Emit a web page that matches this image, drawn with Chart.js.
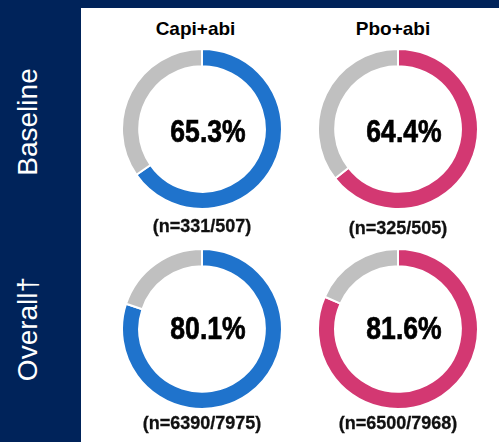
<!DOCTYPE html>
<html>
<head>
<meta charset="utf-8">
<script src="https://cdn.jsdelivr.net/npm/chart.js@4.4.1/dist/chart.umd.min.js"></script>
<style>
  html, body { margin: 0; padding: 0; }
  body { width: 499px; height: 442px; background: #00235a; position: relative; overflow: hidden;
         font-family: "Liberation Sans", Arial, sans-serif; }
  #panel { position: absolute; left: 81px; top: 8px; width: 418px; height: 434px; background: #ffffff; }
  .abs { position: absolute; white-space: nowrap; }
  .title { font-weight: bold; font-size: 19px; line-height: 19px; color: #000; transform: translateX(-50%); }
  .pct { font-weight: bold; font-size: 32px; line-height: 32px; color: #000;
         -webkit-text-stroke: 0.7px #000; transform: translateX(-50%) scaleX(0.83); }
  .nlab { font-weight: bold; font-size: 18px; line-height: 18px; color: #111;
          -webkit-text-stroke: 0.3px #111; transform: translateX(-50%); }
  .row { color: #fff; font-size: 28px; line-height: 28px; transform: translate(-50%, -50%) rotate(-90deg); }
  canvas.donut { position: absolute; }
</style>
</head>
<body>
<div id="panel"></div>
<div id="root"></div>
<script>
// ---- data ----
const groups = ['Capi+abi', 'Pbo+abi'];
const rowLabels = ['Baseline', 'Overall\u2020'];
const baselinePct = [65.3, 64.4];
const overallPct = [80.1, 81.6];
const baselineN = ['(n=331/507)', '(n=325/505)'];
const overallN = ['(n=6390/7975)', '(n=6500/7968)'];
const groupColors = ['#1f73cc', '#d33872'];
const restColor = '#c0c0c0';

// ---- layout ----
const colX = [202, 398];
const rowY = [129, 328.5];
const SIZE = 162;
const root = document.getElementById('root');

function addText(cls, text, cx, cy, size) {
  const d = document.createElement('div');
  d.className = 'abs ' + cls;
  d.textContent = text;
  d.style.left = cx + 'px';
  d.style.top = (cy - size / 2) + 'px';
  root.appendChild(d);
  return d;
}

// row labels (rotated)
const rowCenters = [122, 329];
rowLabels.forEach((t, i) => {
  const d = document.createElement('div');
  d.className = 'abs row';
  d.textContent = t;
  d.style.left = '28px';
  d.style.top = rowCenters[i] + 'px';
  root.appendChild(d);
});

// column titles
const titleX = [195.5, 393];
groups.forEach((g, i) => addText('title', g, titleX[i], 28, 19));

const rows = [
  { pct: baselinePct, n: baselineN, nY: [226, 228], pY: 131 },
  { pct: overallPct, n: overallN, nY: [423, 423], pY: 328 }
];

rows.forEach((row, r) => {
  groups.forEach((g, c) => {
    const cv = document.createElement('canvas');
    cv.className = 'donut';
    cv.width = SIZE; cv.height = SIZE;
    cv.style.width = SIZE + 'px'; cv.style.height = SIZE + 'px';
    cv.style.left = (colX[c] - SIZE / 2) + 'px';
    cv.style.top = (rowY[r] - SIZE / 2) + 'px';
    root.appendChild(cv);
    const v = row.pct[c];
    new Chart(cv.getContext('2d'), {
      type: 'doughnut',
      data: {
        labels: ['Yes', 'No'],
        datasets: [{
          data: [v, +(100 - v).toFixed(1)],
          backgroundColor: [groupColors[c], restColor],
          borderColor: '#ffffff',
          borderWidth: 2,
          hoverOffset: 0
        }]
      },
      options: {
        responsive: false,
        animation: false,
        cutout: '78.5%',
        layout: { padding: 0 },
        plugins: { legend: { display: false }, tooltip: { enabled: false } },
        events: []
      }
    });
    addText('pct', v.toFixed(1) + '%', colX[c] + 5.5, row.pY, 32);
    addText('nlab', row.n[c], colX[c], row.nY[c], 18);
  });
});
</script>
</body>
</html>
